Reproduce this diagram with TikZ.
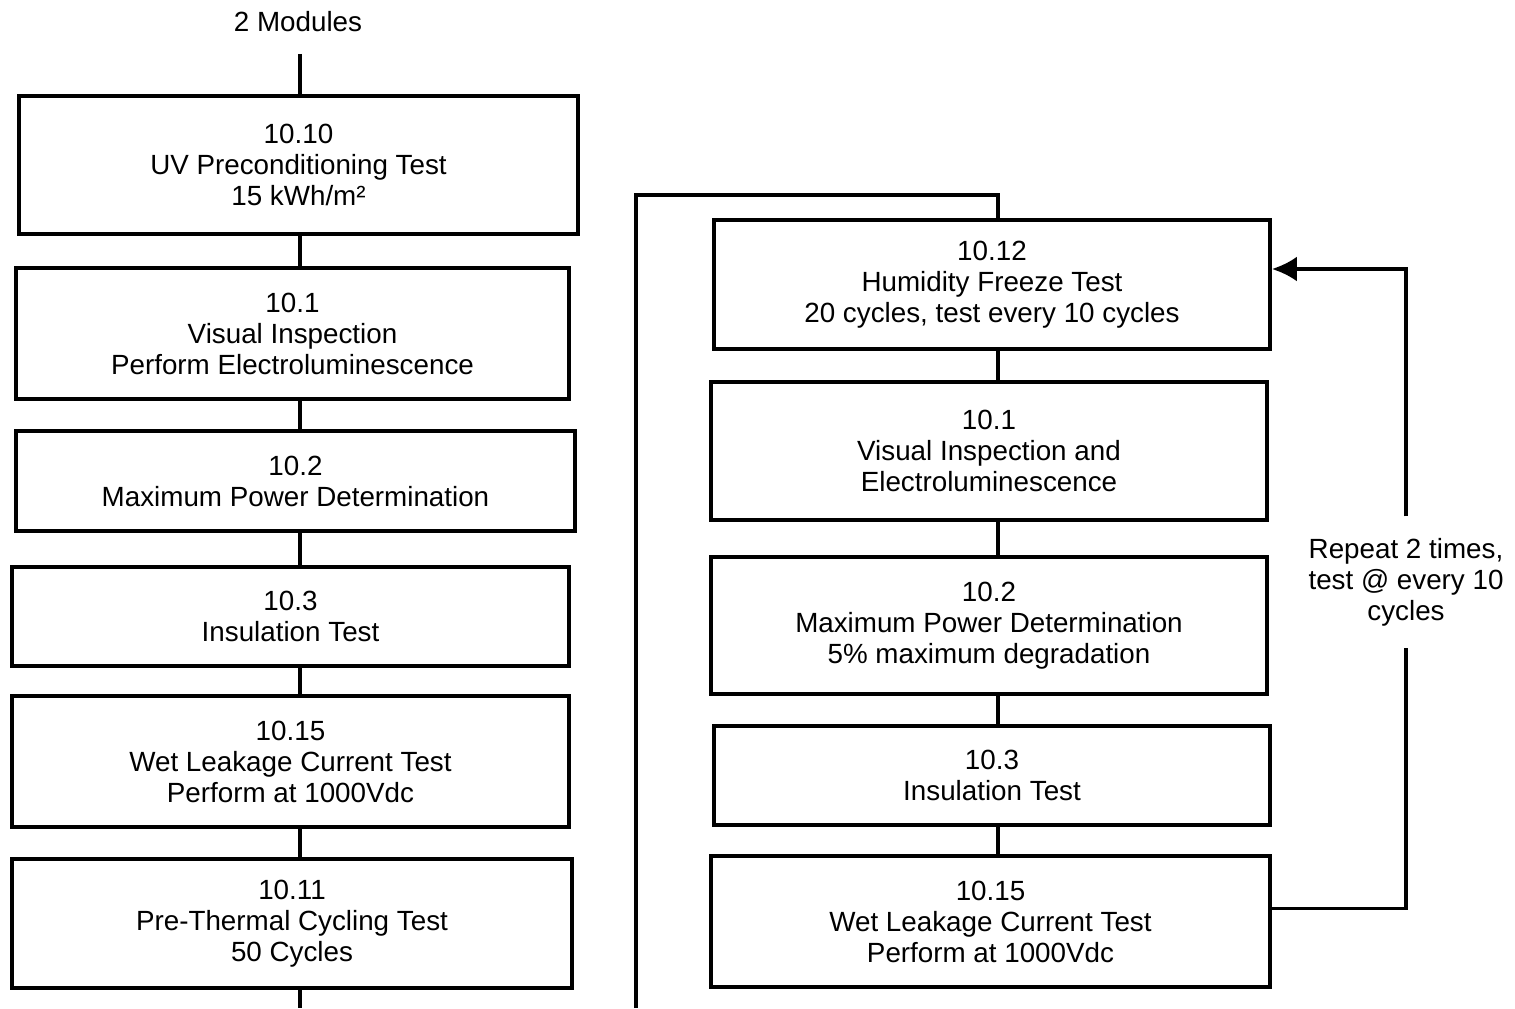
\documentclass[tikz,border=0pt]{standalone}
\usepackage{fontspec}
\setmainfont{Liberation Sans}
\usepackage{tikz}
\usetikzlibrary{arrows.meta}
\usetikzlibrary{calc,positioning}

\begin{document}
\begin{tikzpicture}[x=0.01cm, y=-0.01cm, line width=1pt, txt/.style = {align=center, font=\fontsize{7.9}{8.8}\selectfont}, testbox/.style 2 args = {txt, draw=black, rectangle, inner sep=2pt, minimum width=#1cm, minimum height=#2cm}, note/.style = {txt, inner xsep=2pt, inner ysep=0.2cm}, loop/.style = {-{Latex[length=0.25cm,width=0.25cm]}}]
			\useasboundingbox (0,0) rectangle (1515,1008);
			\coordinate (lsp) at (300,0);
			\coordinate (rsp) at (998,0);
			\node [note] (mods) at (298,22) {2 Modules};
			\node [testbox={5.59}{1.38}] (uv) at (298.5,165) {10.10\\UV Preconditioning Test\\15 kWh/m²};
			\node [testbox={5.53}{1.31}] (vi) at (292.5,333.5) {10.1\\Visual Inspection\\Perform Electroluminescence};
			\node [testbox={5.59}{1.00}] (pm) at (295.5,481) {10.2\\Maximum Power Determination};
			\node [testbox={5.57}{0.99}] (ins) at (290.5,616.5) {10.3\\Insulation Test};
			\node [testbox={5.57}{1.31}] (wl) at (290.5,761.5) {10.15\\Wet Leakage Current Test\\Perform at 1000Vdc};
			\node [testbox={5.60}{1.29}] (tc) at (292,923.5) {10.11\\Pre-Thermal Cycling Test\\50 Cycles};
			\node [testbox={5.56}{1.29}] (hf) at (992,284.5) {10.12\\Humidity Freeze Test\\20 cycles, test every 10 cycles};
			\node [testbox={5.56}{1.38}] (hfvi) at (989,451) {10.1\\Visual Inspection and\\Electroluminescence};
			\node [testbox={5.56}{1.37}] (hfpm) at (989,625.5) {10.2\\Maximum Power Determination\\5\% maximum degradation};
			\node [testbox={5.56}{0.99}] (hfins) at (992,775.5) {10.3\\Insulation Test};
			\node [testbox={5.59}{1.31}] (hfwl) at (990.5,921.5) {10.15\\Wet Leakage Current Test\\Perform at 1000Vdc};
			\node [note] (rep) at (1406,582) {Repeat 2 times,\\test @ every 10\\cycles};
			\coordinate (lbot) at (300,1008);
			\coordinate (loopbot) at (636,1008);
			\draw (mods.south -| lsp) -- (uv.north -| lsp);
			\draw (uv.south -| lsp) -- (vi.north -| lsp);
			\draw (vi.south -| lsp) -- (pm.north -| lsp);
			\draw (pm.south -| lsp) -- (ins.north -| lsp);
			\draw (ins.south -| lsp) -- (wl.north -| lsp);
			\draw (wl.south -| lsp) -- (tc.north -| lsp);
			\draw (tc.south -| lsp) -- (lbot);
			\draw (loopbot) |- ($(hf.north -| rsp)+(0,-23)$) -- (hf.north -| rsp);
			\draw (hf.south -| rsp) -- (hfvi.north -| rsp);
			\draw (hfvi.south -| rsp) -- (hfpm.north -| rsp);
			\draw (hfpm.south -| rsp) -- (hfins.north -| rsp);
			\draw (hfins.south -| rsp) -- (hfwl.north -| rsp);
			\draw ([yshift=0.13cm]hfwl.east) -| (rep.south);
			\draw [loop] (rep.north) |- ([yshift=0.155cm]hf.east);
		\end{tikzpicture}
\end{document}
